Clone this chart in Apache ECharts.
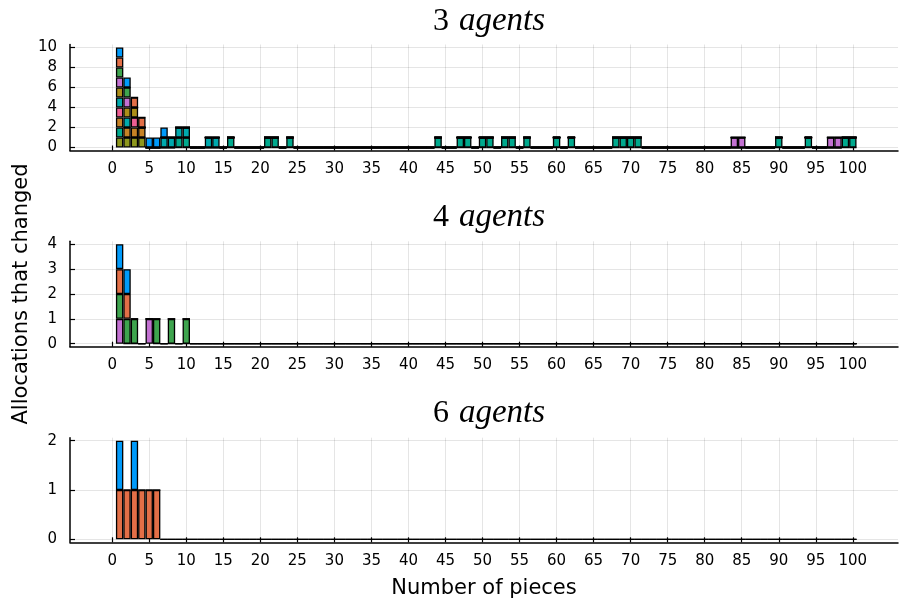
<!DOCTYPE html>
<html>
<head>
<meta charset="utf-8">
<script src="https://cdn.jsdelivr.net/npm/echarts@6/dist/echarts.min.js"></script>
<style>
  html, body { margin: 0; padding: 0; background: #ffffff; }
  #chart { width: 900px; height: 608px; }
</style>
</head>
<body>
<div id="chart"></div>
<script>
// Number of pieces on the horizontal axis (one bar slot per count)
const pieceCounts = Array.from({ length: 100 }, (_, i) => i + 1);
const xTicks = [0, 5, 10, 15, 20, 25, 30, 35, 40, 45, 50, 55, 60, 65, 70, 75, 80, 85, 90, 95, 100];

// Piece counts at which each allocation changed (one change each), 3 agents
const a3s1 = [1, 2, 5, 6, 7];
const a3s2 = [1, 3, 4];
const a3s3 = [1, 2];
const a3s4 = [1, 2, 84, 85, 97, 98];
const a3s5 = [1, 2, 3];
const a3s6 = [1, 2, 7, 8, 9, 10, 13, 14];
const a3s7 = [1, 3];
const a3s8 = [1, 2, 3, 4];
const a3s9 = [1, 9, 10, 16, 21, 22, 24, 44, 47, 48, 50, 51, 53, 54, 56, 60, 62, 68, 69, 70, 71, 90, 94, 99, 100];
const a3s10 = [1, 2, 3, 4];

// 4 agents
const a4s1 = [1, 2];
const a4s2 = [1, 2];
const a4s3 = [1, 2, 3, 6, 8, 10];
const a4s4 = [1, 5];

// 6 agents
const a6s1 = [1, 3];
const a6s2 = [1, 2, 3, 4, 5, 6];

const yTicks3 = [0, 2, 4, 6, 8, 10];
const yTicks4 = [0, 1, 2, 3, 4];
const yTicks6 = [0, 1, 2];

const titles = ['3', '4', '6'];

// Plots.jl default palette
const palette = ['#009AFA', '#E36F47', '#3EA44E', '#C371D2', '#AC8E18',
                 '#00A9AD', '#ED5E93', '#C68225', '#00A98D', '#8E971D'];

const panels = [
  { series: [a3s1, a3s2, a3s3, a3s4, a3s5, a3s6, a3s7, a3s8, a3s9, a3s10], ticks: yTicks3, yRange: [-0.3, 10.3] },
  { series: [a4s1, a4s2, a4s3, a4s4], ticks: yTicks4, yRange: [-0.12, 4.12] },
  { series: [a6s1, a6s2], ticks: yTicks6, yRange: [-0.06, 2.06] }
];

// Layout
const W = 900;
const gridLeft = 70, gridRight = 2;
const gridTops = [44.5, 241.3, 437.7];
const gridHeights = [106, 105.4, 104.6];
const titleCenters = [18, 214, 410];
const xMin = -5.7, xMax = 106.1;
const pxPerUnit = (W - gridLeft - gridRight) / (xMax - xMin);
const barW = pxPerUnit; // bars are one unit wide

const tickFont = { fontFamily: 'DejaVu Sans', fontSize: 15, color: '#000' };

const option = {
  backgroundColor: '#ffffff',
  animation: false,
  title: titles.map((n, i) => ({
    text: '{n|' + n + '}{i|agents}',
    left: (gridLeft + (W - gridRight)) / 2,
    textAlign: 'center',
    top: titleCenters[i] - 18,
    textStyle: {
      fontWeight: 'normal',
      rich: {
        n: { fontFamily: 'Liberation Serif', fontWeight: 'normal', fontSize: 32, color: '#000', padding: [0, 10, 0, 0] },
        i: { fontFamily: 'Liberation Serif', fontWeight: 'normal', fontStyle: 'italic', fontSize: 33, color: '#000' }
      }
    }
  })),
  grid: panels.map((p, i) => ({
    left: gridLeft, right: gridRight, top: gridTops[i], height: gridHeights[i],
    containLabel: false
  })),
  xAxis: panels.map((p, i) => ({
    type: 'value',
    gridIndex: i,
    min: xMin,
    max: xMax,
    name: i === 2 ? 'Number of pieces' : '',
    nameLocation: 'middle',
    nameGap: 36,
    nameTextStyle: { fontFamily: 'DejaVu Sans', fontSize: 21, color: '#000' },
    axisLine: { show: true, onZero: false, lineStyle: { color: '#000', width: 1.5 } },
    axisTick: { show: true, inside: true, length: 5, customValues: xTicks, lineStyle: { color: '#000', width: 1.2 } },
    axisLabel: Object.assign({ show: true, margin: 11, customValues: xTicks }, tickFont),
    splitLine: { show: true, lineStyle: { color: 'rgba(0,0,0,0.1)', width: 1 } }
  })),
  yAxis: panels.map((p, i) => ({
    type: 'value',
    gridIndex: i,
    min: p.yRange[0],
    max: p.yRange[1],
    name: i === 1 ? 'Allocations that changed' : '',
    nameLocation: 'middle',
    nameGap: 38,
    nameTextStyle: { fontFamily: 'DejaVu Sans', fontSize: 21, color: '#000' },
    axisLine: { show: true, onZero: false, lineStyle: { color: '#000', width: 1.5 } },
    axisTick: { show: true, inside: true, length: 5, customValues: p.ticks, lineStyle: { color: '#000', width: 1.2 } },
    axisLabel: Object.assign({ show: true, margin: 13, customValues: p.ticks }, tickFont),
    splitLine: { show: true, lineStyle: { color: 'rgba(0,0,0,0.1)', width: 1 } }
  })),
  series: []
};

// Stack bars so that the first series of each panel sits on top.
// Rows are [count, pieces]; the count comes first so it is the stacked dimension.
panels.forEach((p, i) => {
  for (let s = p.series.length - 1; s >= 0; s--) {
    const hits = p.series[s];
    option.series.push({
      type: 'bar',
      xAxisIndex: i,
      yAxisIndex: i,
      stack: 'panel' + i,
      barWidth: barW,
      encode: { x: 1, y: 0 },
      itemStyle: { color: palette[s], borderColor: '#000', borderWidth: 1.3 },
      emphasis: { disabled: true },
      data: pieceCounts.map(n => [hits.includes(n) ? 1 : 0, n])
    });
  }
});

const chart = echarts.init(document.getElementById('chart'), null, { renderer: 'canvas' });
chart.setOption(option);
</script>
</body>
</html>
